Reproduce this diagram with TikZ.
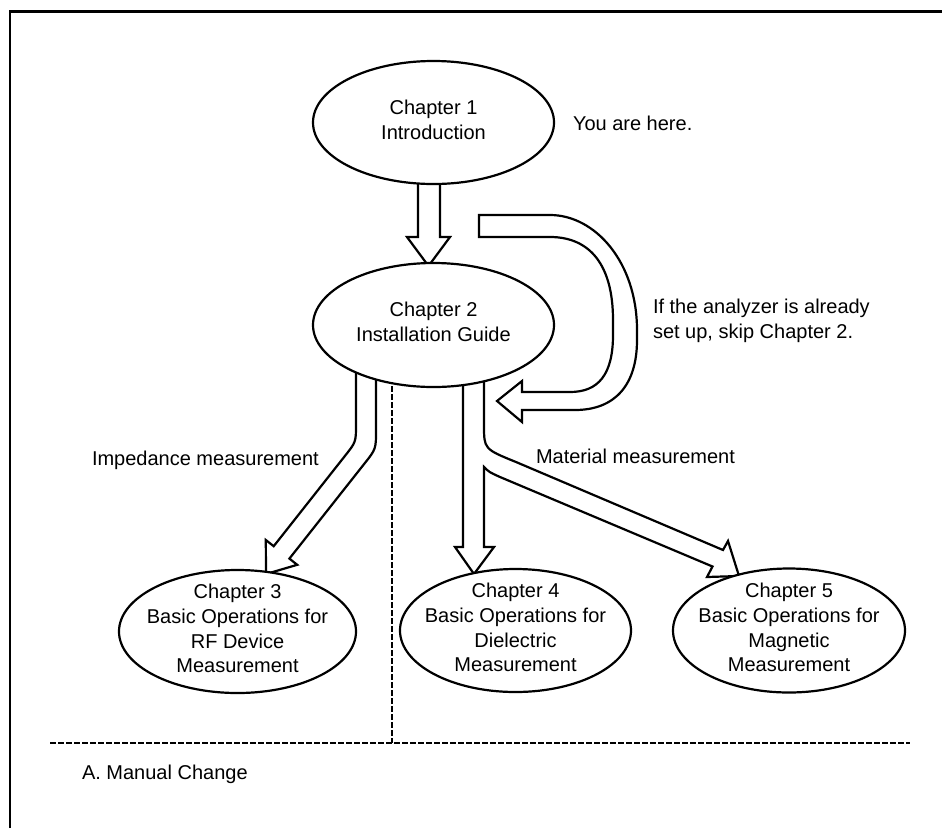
\documentclass[tikz,border=0pt]{standalone}
\usepackage{fontspec}
\setmainfont{Liberation Sans}
\usetikzlibrary{shapes.geometric}
\begin{document}
\begin{tikzpicture}[x=1pt,y=-1pt,
  txt/.style={font=\fontsize{20}{24.7}\selectfont, inner sep=0pt, outer sep=0pt},
  ctxt/.style={txt, align=center, yshift=3pt},
  chap/.style={ellipse, draw, fill=white, line width=2.2pt, inner sep=0pt},
  blockarrow/.style={draw, fill=white, line width=2.2pt, line join=miter},
  sepline/.style={line width=2.1pt, dash pattern=on 5.5pt off 2.5pt},
  frameline/.style={line width=2.8pt, line join=miter}]
\useasboundingbox (0,0) rectangle (942,828);

% frame
\draw[frameline] (10,828) -- (10,11.3) -- (942,11.3);

% separators
\draw[sepline] (392,370) -- (392,743);
\draw[sepline] (50,743) -- (910,743);

% Chapter 1 -> Chapter 2
\draw[blockarrow] (418,170) -- (418,237) -- (407,237) -- (428.5,266) -- (450,237) -- (440,237) -- (440,170) -- cycle;

% skip arrow (U shaped)
\draw[blockarrow] (479,215) -- (550,215) .. controls (595,215) and (637,262) .. (637,330)
  -- (637,340) .. controls (637,385) and (615,410) .. (575,410)
  -- (522,410) -- (522,422) -- (497,401) -- (522,381) -- (522,392)
  -- (570,392) .. controls (598,392) and (613,375) .. (613,335)
  -- (613,320) .. controls (613,265) and (590,237) .. (550,237)
  -- (479,237) -- cycle;

% Chapter 2 -> Chapter 3
\draw[blockarrow] (356,360) -- (356,424) .. controls (356,442) .. (344.8,456.1)
  -- (273.7,546.2) -- (265.8,540) -- (266,574) -- (297.2,564.8) -- (289.4,558.6)
  -- (364.2,463.9) .. controls (376,449) .. (376,430) -- (376,360) -- cycle;

% Chapter 2 -> Chapter 4 / Chapter 5
\draw[blockarrow] (463,360) -- (463,547) -- (455,547) -- (474,574) -- (494,547) -- (484,547)
  -- (484,467) .. controls (489,472) .. (500,477)
  -- (712.5,566.5) -- (707,577) -- (739,576) -- (728,541) -- (723,550)
  -- (516,462) .. controls (484,449) .. (484,425) -- (484,360) -- cycle;

% chapters
\node[chap, minimum width=241pt, minimum height=123pt] (ch1) at (433.5,122.5) {};
\node[chap, minimum width=241pt, minimum height=124pt] (ch2) at (433.5,325) {};
\node[chap, minimum width=237pt, minimum height=123pt] (ch3) at (237.5,631.5) {};
\node[chap, minimum width=231pt, minimum height=123pt] (ch4) at (515.5,630.5) {};
\node[chap, minimum width=232pt, minimum height=124pt] (ch5) at (789,630.5) {};

\node[ctxt] (ch1t) at (ch1.center) {Chapter 1\\Introduction};
\node[ctxt] (ch2t) at (ch2.center) {Chapter 2\\Installation Guide};
\node[ctxt] (ch3t) at (ch3.center) {Chapter 3\\Basic Operations for\\RF Device\\Measurement};
\node[ctxt] (ch4t) at (ch4.center) {Chapter 4\\Basic Operations for\\Dielectric\\Measurement};
\node[ctxt] (ch5t) at (ch5.center) {Chapter 5\\Basic Operations for\\Magnetic\\Measurement};

% labels
\node[txt, anchor=base west] (here) at (573,130) {You are here.};
\node[txt, anchor=north west, align=left] (skip) at (653,299.4) {If the analyzer is already\\set up, skip Chapter 2.};
\node[txt, anchor=base west] (imp) at (92,465) {Impedance measurement};
\node[txt, anchor=base west] (mat) at (536,463) {Material measurement};
\node[txt, anchor=base west] (appA) at (82,779) {A. Manual Change};
\end{tikzpicture}
\end{document}
